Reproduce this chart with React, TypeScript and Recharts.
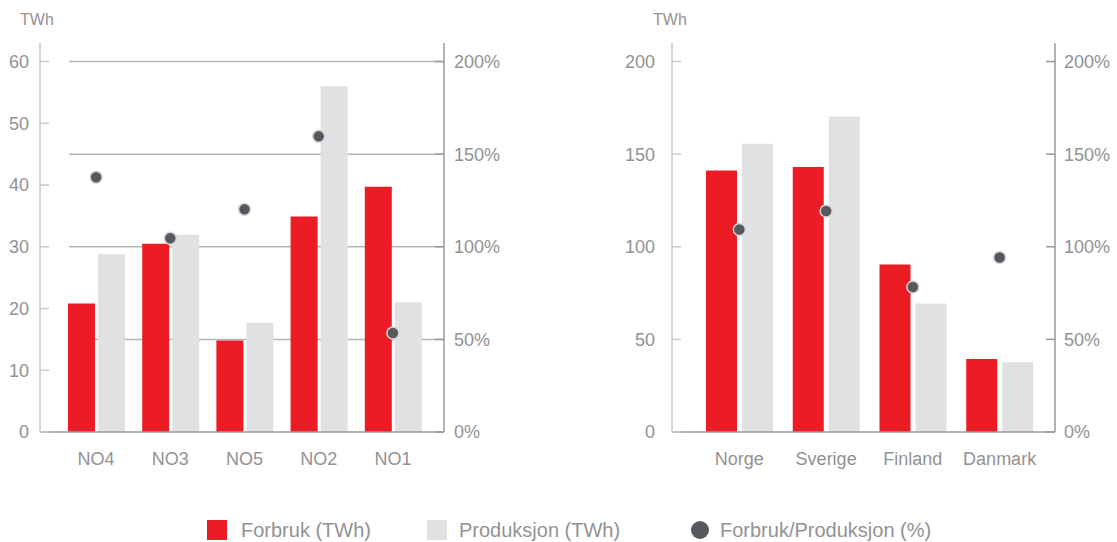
import { ComposedChart, Bar, Scatter, XAxis, YAxis, CartesianGrid } from 'recharts';

// Prisområder (TWh) og forholdstall (%)
const regions = ['NO4', 'NO3', 'NO5', 'NO2', 'NO1'];
const regionForbruk = [20.8, 30.5, 14.8, 34.9, 39.7];
const regionProduksjon = [28.8, 32.0, 17.7, 56.0, 21.0];
const regionRatio = [137.5, 104.6, 120.2, 159.6, 53.4];

// Nordiske land (TWh) og forholdstall (%)
const countries = ['Norge', 'Sverige', 'Finland', 'Danmark'];
const countryForbruk = [141.2, 143.0, 90.4, 39.4];
const countryProduksjon = [155.6, 170.3, 69.4, 37.6];
const countryRatio = [109.3, 119.3, 78.3, 94.2];

const regionTwhTicks = [0, 10, 20, 30, 40, 50, 60];
const countryTwhTicks = [0, 50, 100, 150, 200];
const pctTicks = [0, 50, 100, 150, 200];

const RED = '#ec1c24';
const LIGHT = '#dfe1e3';
const DOT = '#55585d';
const TEXT = '#929292';
const AXIS_LIGHT = '#c9c9c9';
const AXIS_DARK = '#9a9a9a';
const GRID = '#b5b5b5';

const regionData = regions.map((name, i) => ({
  name,
  forbruk: regionForbruk[i],
  produksjon: regionProduksjon[i],
  ratio: regionRatio[i],
}));

const countryData = countries.map((name, i) => ({
  name,
  forbruk: countryForbruk[i],
  produksjon: countryProduksjon[i],
  ratio: countryRatio[i],
}));

// tick with a short inward stub on the axis line
const makeTick = (side: 'left' | 'right', gap: number, stroke: string, suffix = '') => (props: any) => {
  const { x, y, payload } = props;
  const axisX = side === 'left' ? x + gap : x - gap;
  const inner = side === 'left' ? axisX + 9 : axisX - 9;
  return (
    <g>
      <line x1={axisX} x2={inner} y1={y} y2={y} stroke={stroke} strokeWidth={1.5} />
      <text
        x={x}
        y={y}
        dy="0.36em"
        textAnchor={side === 'left' ? 'end' : 'start'}
        fill={TEXT}
        fontSize={18}
      >
        {payload.value}
        {suffix}
      </text>
    </g>
  );
};

const ratioDot = (p: any) => (
  <circle cx={p.cx} cy={p.cy} r={6} fill={DOT} stroke="#d6d7d9" strokeWidth={1.5} />
);

// grid lines start at the first bar, not at the axis; no line on the plot's top or bottom edge
const gridLine = (p: any) => {
  if (p.y1 <= p.y + 1 || p.y1 >= p.y + p.height - 1) return <g key={`grid-${p.index}`} />;
  return (
    <line
      key={`grid-${p.index}`}
      x1={p.x1 + 29}
      x2={p.x2}
      y1={p.y1}
      y2={p.y2}
      stroke={GRID}
      strokeWidth={1.5}
    />
  );
};

const unitStyle: React.CSSProperties = {
  position: 'absolute',
  top: 11,
  fontSize: 16,
  color: TEXT,
};

export default function App() {
  return (
    <div
      style={{
        position: 'absolute',
        left: 0,
        top: 0,
        width: 1117,
        height: 542,
        background: '#fff',
        fontFamily: '"Liberation Sans", Arial, sans-serif',
      }}
    >
      <span style={{ ...unitStyle, left: 20 }}>TWh</span>
      <span style={{ ...unitStyle, left: 653 }}>TWh</span>

      <div style={{ position: 'absolute', left: 0, top: 0 }}>
        <ComposedChart
          width={560}
          height={480}
          data={regionData}
          margin={{ top: 43, right: 0, bottom: 0, left: 0 }}
          barSize={27}
          barGap={3}
        >
          <CartesianGrid yAxisId="pct" vertical={false} horizontal={gridLine} />
          <XAxis
            dataKey="name"
            padding={{ left: 19, right: 14 }}
            height={48}
            tickLine={false}
            tickSize={0}
            tickMargin={20}
            axisLine={{ stroke: AXIS_DARK, strokeWidth: 1.5 }}
            tick={{ fill: TEXT, fontSize: 18 }}
          />
          <YAxis
            yAxisId="twh"
            width={40}
            domain={[0, 63]}
            ticks={regionTwhTicks}
            tickLine={false}
            tickSize={0}
            tickMargin={11}
            axisLine={{ stroke: AXIS_LIGHT, strokeWidth: 1.5 }}
            tick={makeTick('left', 11, AXIS_LIGHT)}
          />
          <YAxis
            yAxisId="pct"
            orientation="right"
            width={116}
            domain={[0, 210]}
            ticks={pctTicks}
            tickLine={false}
            tickSize={0}
            tickMargin={10}
            axisLine={{ stroke: AXIS_DARK, strokeWidth: 1.5 }}
            tick={makeTick('right', 10, AXIS_DARK, '%')}
          />
          <Bar yAxisId="twh" dataKey="forbruk" fill={RED} isAnimationActive={false} />
          <Bar yAxisId="twh" dataKey="produksjon" fill={LIGHT} isAnimationActive={false} />
          <Scatter yAxisId="pct" dataKey="ratio" shape={ratioDot} isAnimationActive={false} />
        </ComposedChart>
      </div>

      <div style={{ position: 'absolute', left: 600, top: 0 }}>
        <ComposedChart
          width={517}
          height={480}
          data={countryData}
          margin={{ top: 43, right: 0, bottom: 0, left: 0 }}
          barSize={31}
          barGap={5}
        >
          <XAxis
            dataKey="name"
            padding={{ left: 24, right: 12 }}
            height={48}
            tickLine={false}
            tickSize={0}
            tickMargin={20}
            axisLine={{ stroke: AXIS_DARK, strokeWidth: 1.5 }}
            tick={{ fill: TEXT, fontSize: 18 }}
          />
          <YAxis
            yAxisId="twh"
            width={72}
            domain={[0, 210]}
            ticks={countryTwhTicks}
            tickLine={false}
            tickSize={0}
            tickMargin={17}
            axisLine={{ stroke: AXIS_LIGHT, strokeWidth: 1.5 }}
            tick={makeTick('left', 17, AXIS_LIGHT)}
          />
          <YAxis
            yAxisId="pct"
            orientation="right"
            width={62}
            domain={[0, 210]}
            ticks={pctTicks}
            tickLine={false}
            tickSize={0}
            tickMargin={9}
            axisLine={{ stroke: AXIS_DARK, strokeWidth: 1.5 }}
            tick={makeTick('right', 9, AXIS_DARK, '%')}
          />
          <Bar yAxisId="twh" dataKey="forbruk" fill={RED} isAnimationActive={false} />
          <Bar yAxisId="twh" dataKey="produksjon" fill={LIGHT} isAnimationActive={false} />
          <Scatter yAxisId="pct" dataKey="ratio" shape={ratioDot} isAnimationActive={false} />
        </ComposedChart>
      </div>

      {/* shared legend */}
      <div style={{ position: 'absolute', top: 520, left: 0, height: 20, width: 1117, fontSize: 20, color: TEXT }}>
        <span style={{ position: 'absolute', left: 207, top: 0, width: 20, height: 20, background: RED }} />
        <span style={{ position: 'absolute', left: 241, top: -2, lineHeight: '24px' }}>Forbruk (TWh)</span>
        <span style={{ position: 'absolute', left: 427, top: 0, width: 20, height: 20, background: LIGHT }} />
        <span style={{ position: 'absolute', left: 459, top: -2, lineHeight: '24px' }}>Produksjon (TWh)</span>
        <span
          style={{ position: 'absolute', left: 691, top: 1, width: 18, height: 18, borderRadius: '50%', background: DOT }}
        />
        <span style={{ position: 'absolute', left: 720, top: -2, lineHeight: '24px' }}>Forbruk/Produksjon (%)</span>
      </div>
    </div>
  );
}
